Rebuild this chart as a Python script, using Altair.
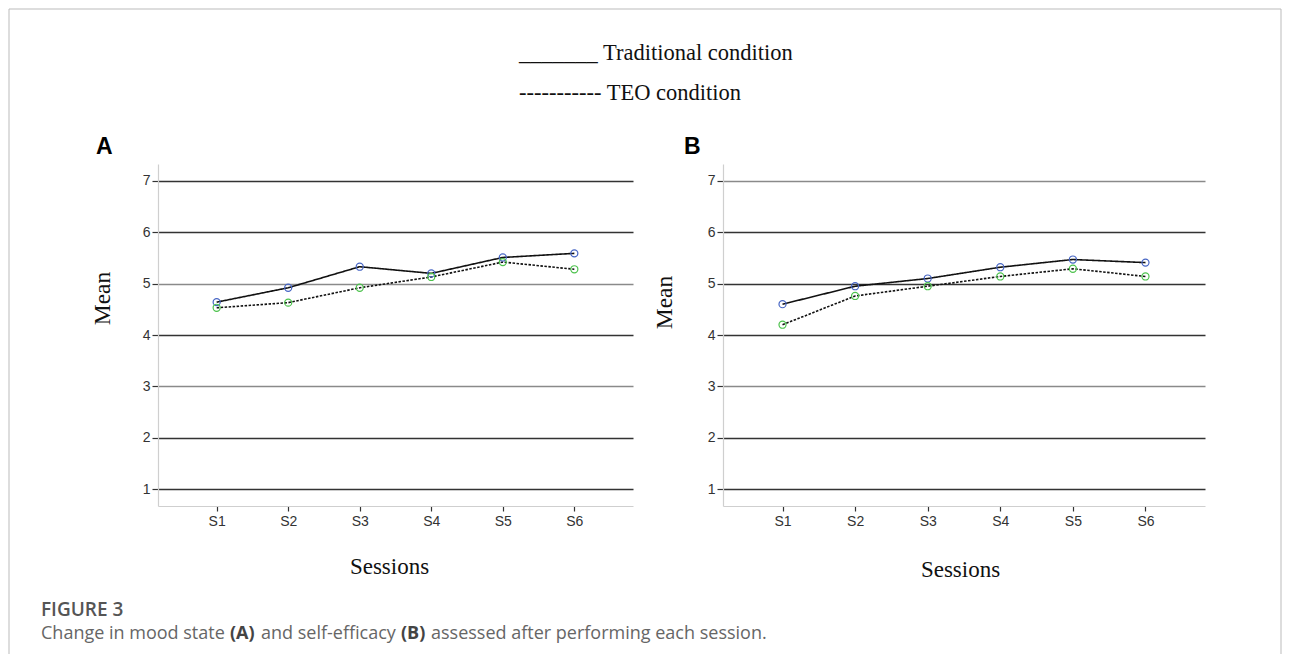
import altair as alt
import pandas as pd

sessions = ["S1", "S2", "S3", "S4", "S5", "S6"]
conditions = ["Traditional condition", "TEO condition"]
mood_traditional = [4.64, 4.92, 5.33, 5.20, 5.51, 5.59]
mood_teo = [4.53, 4.63, 4.92, 5.13, 5.42, 5.28]
se_traditional = [4.60, 4.95, 5.10, 5.32, 5.47, 5.41]
se_teo = [4.20, 4.76, 4.95, 5.14, 5.29, 5.14]
y_ticks = [1, 2, 3, 4, 5, 6, 7]

legend_trad = "_______ Traditional condition"
legend_teo = "----------- TEO condition"
fig_label = "FIGURE 3"
caption_parts = [
    ("Change in mood state", "normal"),
    ("(A)", "bold"),
    ("and self-efficacy", "normal"),
    ("(B)", "bold"),
    ("assessed after performing each session.", "normal"),
]

SERIF = "Liberation Serif"
SANS = "Liberation Sans"


def long_df(trad, teo):
    rows = []
    for s, v in zip(sessions, trad):
        rows.append({"session": s, "value": v, "condition": conditions[0]})
    for s, v in zip(sessions, teo):
        rows.append({"session": s, "value": v, "condition": conditions[1]})
    return pd.DataFrame(rows)


def text_layer(txt, x, y, size, font, color="#000", weight="normal", align="left"):
    return alt.Chart(pd.DataFrame({"t": [txt]})).mark_text(
        align=align, baseline="alphabetic", fontSize=size, font=font,
        color=color, fontWeight=weight
    ).encode(x=alt.value(x), y=alt.value(y), text="t:N")


def rule_layer(x, y, x2=None, y2=None, color="#bbb"):
    enc = {"x": alt.value(x), "y": alt.value(y)}
    if x2 is not None:
        enc["x2"] = alt.value(x2)
    if y2 is not None:
        enc["y2"] = alt.value(y2)
    return alt.Chart(pd.DataFrame({"a": [0]})).mark_rule(color=color, strokeWidth=1).encode(**enc)


def panel(trad, teo, light_vals, titlex_y, titlex_x, titley_x, titley_y):
    df = long_df(trad, teo)
    light_test = " || ".join(f"datum.value == {v}" for v in light_vals)
    x = alt.X(
        "session:N", sort=sessions,
        scale=alt.Scale(type="point", padding=0.82),
        axis=alt.Axis(
            title="Sessions", titleFont=SERIF, titleFontSize=23, titleFontWeight="normal",
            titleColor="#111", titleBaseline="alphabetic", titleY=titlex_y, titleX=titlex_x,
            labelAngle=0, labelFont=SANS, labelFontSize=14, labelColor="#333",
            labelPadding=3, tickColor="#333", tickSize=5, tickWidth=1.2,
            domainColor="#cfcfcf", domainWidth=1.2, grid=False,
        ),
    )
    y = alt.Y(
        "value:Q",
        scale=alt.Scale(domain=[0.67, 7.33], nice=False, zero=False),
        axis=alt.Axis(
            values=y_ticks, format="d", title="Mean", titleFont=SERIF, titleFontSize=23.5,
            titleFontWeight="normal", titleColor="#111", titleAngle=270,
            titleBaseline="alphabetic", titleAlign="center", titleY=titley_y, titleX=titley_x,
            labelFont=SANS, labelFontSize=14, labelColor="#333", labelPadding=2,
            tickColor="#333", tickSize=6, tickWidth=1.2,
            domainColor="#cfcfcf", domainWidth=1.2,
            grid=True, gridWidth=1.6,
            gridColor=alt.condition(light_test, alt.value("#8a8a8a"), alt.value("#333333")),
        ),
    )
    lines = alt.Chart(df).mark_line(color="#111", strokeWidth=1.6).encode(
        x=x, y=y, detail="condition:N",
        strokeDash=alt.StrokeDash(
            "condition:N",
            scale=alt.Scale(domain=conditions, range=[[1, 0], [2.5, 1.5]]),
            legend=None,
        ),
    )
    pts = alt.Chart(df).mark_point(filled=False, size=50, strokeWidth=1.2, opacity=1).encode(
        x=x, y=y,
        stroke=alt.Stroke(
            "condition:N",
            scale=alt.Scale(domain=conditions, range=["#4665c4", "#4cc24c"]),
            legend=None,
        ),
    )
    return lines + pts


A = panel(mood_traditional, mood_teo, [5, 3], 67, 231, -49, 134)
B = panel(se_traditional, se_teo, [7, 3], 70, 237, -52, 138)

caption_x = [-117, 72, 103, 243, 273]
decor = [
    rule_layer(-149, -155, x2=1123),
    rule_layer(-149, -155, y2=490),
    rule_layer(1123, -155, y2=490),
    text_layer(legend_trad, 361, -104.5, 22.5, SERIF, "#111"),
    text_layer(legend_teo, 361, -64.5, 22.5, SERIF, "#111"),
    text_layer("A", -62, -10, 23, SANS, "#000", "bold"),
    text_layer("B", 526, -10, 23, SANS, "#000", "bold"),
    text_layer(fig_label, -117, 452, 19, "Open Sans", "#555", 600),
]
for (txt, w), cx in zip(caption_parts, caption_x):
    decor.append(text_layer(txt, cx, 475, 18, "Open Sans", "#666" if w == "normal" else "#444", w))

panelA = alt.layer(A, *decor).properties(width=475, height=342)
panelB = B.properties(width=482, height=342)

chart = alt.hconcat(panelA, panelB, spacing=90, bounds="flush").properties(
    padding=0, background="white"
).configure_view(stroke=None)

chart.save("out.html", embed_options={"renderer": "svg", "actions": False})
